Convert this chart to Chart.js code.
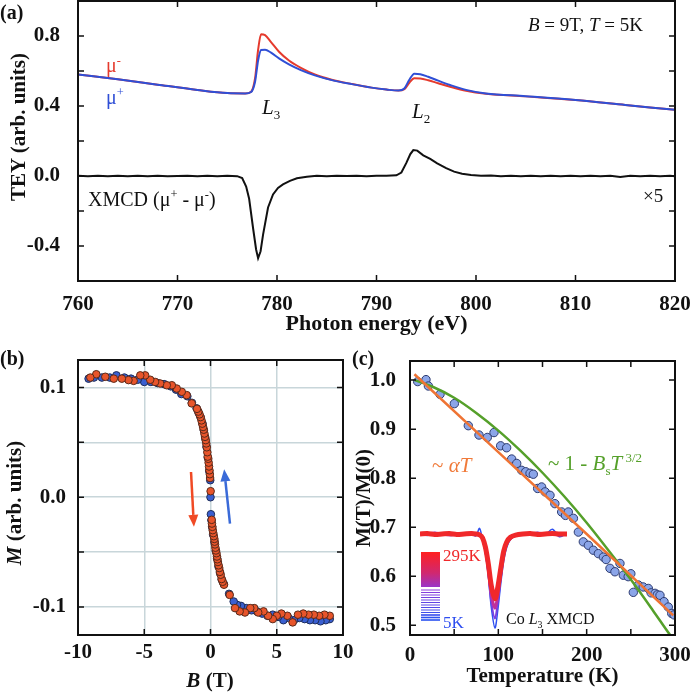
<!DOCTYPE html>
<html>
<head>
<meta charset="utf-8">
<script src="https://cdn.jsdelivr.net/npm/chart.js@4.4.1/dist/chart.umd.min.js"></script>
<style>
    body { margin: 0; background: #fff; }
    #fig { position: relative; width: 692px; height: 694px; overflow: hidden;
           font-family: 'Liberation Serif', 'Times New Roman', serif; color: #111; }
    .box { position: absolute; }
    .t { position: absolute; white-space: nowrap; line-height: 1; }
    .mid { transform: translate(-50%, -50%); }
    .rot { transform: translate(-50%, -50%) rotate(-90deg); }
    .b { font-weight: bold; }
    i { font-style: italic; }
    sup, sub { font-size: 62%; line-height: 0; }
</style>
</head>
<body>
<div id="fig">
    <div class="box" style="left:0;top:0;width:692px;height:340px"><canvas id="chartA" width="692" height="340"></canvas></div>
    <div class="box" style="left:0;top:340px;width:362px;height:354px"><canvas id="chartB" width="362" height="354"></canvas></div>
    <div class="box" style="left:346px;top:340px;width:346px;height:354px"><canvas id="chartC" width="346" height="354"></canvas></div>
    <div class="box" style="left:420px;top:520px;width:147px;height:112px"><canvas id="chartInset" width="147" height="112"></canvas></div>

    <!-- panel (a) labels -->
    <div class="t b" style="left:0;top:2px;font-size:20px">(a)</div>
    <div class="t b rot" style="left:18px;top:127px;font-size:21px">TEY (arb. units)</div>
    <div class="t" style="left:106px;top:55px;font-size:20px;color:#e53a2d">μ<sup>-</sup></div>
    <div class="t" style="left:106px;top:87px;font-size:20px;color:#2f4fd6">μ<sup>+</sup></div>
    <div class="t" style="left:262px;top:97px;font-size:21px"><i>L</i><sub>3</sub></div>
    <div class="t" style="left:412px;top:101px;font-size:21px"><i>L</i><sub>2</sub></div>
    <div class="t" style="left:88px;top:189px;font-size:20px">XMCD (μ<sup>+</sup> - μ<sup>-</sup>)</div>
    <div class="t" style="left:643px;top:186px;font-size:19px">×5</div>
    <div class="t" style="left:528px;top:15px;font-size:19px"><i>B</i> = 9T, <i>T</i> = 5K</div>

    <!-- panel (b) labels -->
    <div class="t b" style="left:0;top:348px;font-size:20px">(b)</div>
    <div class="t b rot" style="left:14px;top:503px;font-size:21px"><i>M</i> (arb. units)</div>
    <div class="t b mid" style="left:210px;top:680px;font-size:21px"><i>B</i> (T)</div>

    <!-- panel (c) labels -->
    <div class="t b" style="left:352px;top:348px;font-size:20px">(c)</div>
    <div class="t" style="left:432px;top:455px;font-size:21px;color:#f07a3a">~ <i>αT</i></div>
    <div class="t" style="left:548px;top:453px;font-size:21px;color:#55a02a">~ 1 - <i>B</i><sub>s</sub><i>T</i><sup> 3/2</sup></div>
    <div class="t" style="left:443px;top:547px;font-size:17px;color:#f0282a">295K</div>
    <div class="t" style="left:443px;top:614px;font-size:17px;color:#2f4ff0">5K</div>
    <div class="t" style="left:506px;top:611px;font-size:16px">Co <i>L</i><sub>3</sub> XMCD</div>
</div>

<script>
// ---- (a) XAS at the Co L edges, B = 9T, T = 5K ----
var energyMu = [760, 764, 768, 772, 775, 776.8, 777.4, 777.8, 778.1, 778.4, 778.8, 779.4, 780.2, 781.2, 782.4,
                783.8, 785.5, 787.5, 789.5, 791, 792.2, 792.8, 793.3, 793.8, 794.4, 795.2, 796.2, 797.4, 799, 801,
                805, 810, 815, 820];
var muPlus  = [0.580, 0.553, 0.522, 0.492, 0.474, 0.472, 0.48, 0.54, 0.66, 0.72, 0.722, 0.705, 0.672, 0.638, 0.605,
               0.575, 0.548, 0.525, 0.505, 0.494, 0.488, 0.5, 0.55, 0.585, 0.582, 0.567, 0.545, 0.52, 0.492, 0.472,
               0.456, 0.434, 0.406, 0.378];
var muMinus = [0.580, 0.553, 0.522, 0.492, 0.474, 0.472, 0.482, 0.56, 0.72, 0.81, 0.805, 0.765, 0.71, 0.66, 0.618,
               0.58, 0.55, 0.526, 0.505, 0.494, 0.488, 0.496, 0.533, 0.558, 0.557, 0.547, 0.53, 0.51, 0.487, 0.47,
               0.455, 0.434, 0.406, 0.378];

var energyXmcd = [760, 761, 762, 763, 764, 765, 766, 767, 768, 769, 770, 771, 772, 773, 774, 775, 776,
                  776.5, 776.9, 777.2, 777.6, 777.9, 778.1, 778.35, 778.6, 779.1, 779.6, 780.1, 780.6, 781.3, 782, 783,
                  784, 785, 786, 787, 788, 789, 790, 791, 792,
                  792.5, 793, 793.4, 793.7, 794.1, 794.7, 795.4, 796.1, 797, 797.8, 798.6, 799.5,
                  800.5, 801.5, 802.5, 803.5, 804.5, 805.5, 806.5, 807.5, 808.5, 809.5, 810.5, 811.5, 812.5, 813.5,
                  814.5, 815.5, 816.5, 817.5, 818.5, 819.5, 820];
var xmcdSignal = [0.001, -0.002, 0.002, -0.001, 0.002, -0.002, 0.001, -0.001, 0.002, -0.002, 0.0, 0.002, -0.002, 0.001, -0.001, 0.002, -0.001,
                  -0.012, -0.06, -0.13, -0.3, -0.42, -0.47, -0.43, -0.335, -0.18, -0.105, -0.068, -0.048, -0.028, -0.013, -0.004,
                  0.001, -0.001, 0.002, 0.0, 0.002, -0.001, 0.002, 0.001, 0.004,
                  0.02, 0.075, 0.125, 0.148, 0.145, 0.118, 0.098, 0.072, 0.045, 0.025, 0.013, 0.006,
                  0.001, 0.003, -0.001, 0.002, -0.002, 0.001, -0.001, 0.002, -0.002, 0.001, -0.001, 0.002, -0.002, 0.001,
                  -0.006, 0.001, -0.002, 0.002, -0.001, 0.001, -0.001];

// ---- (b) hysteresis loop ----
var loopDownB = [9.0, 8.6, 8.2, 7.8, 7.4, 7.0, 6.6, 6.2, 5.8, 5.35, 5.0, 4.7, 4.35, 4.0, 3.6, 3.3, 3.0, 2.6, 2.2, 1.85, 1.45,
                 1.02, 0.92, 0.84, 0.77, 0.71, 0.66, 0.61, 0.56, 0.52, 0.49, 0.45, 0.41, 0.37, 0.34, 0.31, 0.29, 0.25, 0.21,
                 0.17, 0.14, 0.11, 0.09, 0.01,
                 -0.03, -0.05, -0.08, -0.11, -0.14, -0.17, -0.21, -0.24, -0.28, -0.32, -0.36, -0.41, -0.46, -0.51, -0.56,
                 -0.62, -0.68, -0.75, -0.83, -0.92, -1.02, -1.42,
                 -1.8, -2.17, -2.55, -2.92, -3.3, -3.8, -4.18, -4.55, -4.93, -5.3, -5.8, -6.19, -6.69, -7.3, -7.94, -8.62, -9.07];
var loopDownM = [-0.108, -0.107, -0.108, -0.107, -0.107, -0.106, -0.107, -0.114, -0.108, -0.106, -0.108, -0.111, -0.108, -0.104, -0.105, -0.101, -0.101, -0.105, -0.104, -0.101, -0.089,
                 -0.0797, -0.077, -0.0745, -0.0706, -0.068, -0.0645, -0.062, -0.059, -0.0565, -0.054, -0.051, -0.0485, -0.046, -0.043, -0.0405, -0.038, -0.0355, -0.0327,
                 -0.03, -0.027, -0.024, -0.0206, 0.0055,
                 0.0175, 0.021, 0.0245, 0.028, 0.0315, 0.035, 0.037, 0.041, 0.0455, 0.049, 0.052, 0.055, 0.058, 0.0615, 0.064,
                 0.067, 0.07, 0.073, 0.0755, 0.078, 0.0805, 0.0855,
                 0.093, 0.096, 0.099, 0.102, 0.102, 0.1036, 0.105, 0.107, 0.111, 0.111, 0.106, 0.1067, 0.108, 0.108, 0.1097, 0.112, 0.109];
var loopUpB = [9.0, 8.7, 8.3, 7.9, 7.5, 7.1, 6.7, 6.3, 5.9, 5.5, 5.1, 4.7, 4.3, 3.9, 3.5, 3.1, 2.7, 2.3, 2.0, 1.75, 1.4,
               1.0, 0.85, 0.72, 0.6, 0.5, 0.4, 0.3, 0.2, 0.12, 0.07, 0.03,
               0.0, -0.02,
               -0.1, -0.2, -0.3, -0.4, -0.5, -0.6, -0.75, -0.9, -1.05, -1.4, -1.75,
               -2.2, -2.6, -3.0, -3.5, -4.0, -4.5, -5.0, -5.5, -6.0, -6.5, -7.1, -7.6, -8.2, -8.8, -9.2];
var loopUpM = [-0.111, -0.112, -0.113, -0.112, -0.112, -0.111, -0.110, -0.112, -0.110, -0.112, -0.109, -0.107, -0.108, -0.106, -0.104, -0.103, -0.101, -0.099, -0.098, -0.095, -0.088,
               -0.079, -0.075, -0.069, -0.063, -0.056, -0.049, -0.041, -0.034, -0.027, -0.021, -0.0155,
               0.0, 0.0155,
               0.024, 0.036, 0.046, 0.054, 0.061, 0.067, 0.073, 0.077, 0.081, 0.086, 0.092,
               0.094, 0.098, 0.101, 0.103, 0.104, 0.105, 0.105, 0.107, 0.108, 0.109, 0.111, 0.109, 0.109, 0.109, 0.108];
// sweep arrows: [B, M] tail then head
var arrowDown = [[-1.47, 0.023], [-1.25, -0.027]];
var arrowUp   = [[1.47, -0.024], [1.03, 0.0255]];

// ---- (c) temperature dependence ----
var tempK = [8.7, 18.1, 20.8, 34, 50.2, 66, 78.1, 87.5, 95.1, 102.6, 109.4, 115.1, 120.8, 126.4, 131, 135.9, 139.6,
             144.5, 149, 153, 158.5, 164, 171.7, 176, 179.2, 185, 190.6, 196.2, 201.9, 207.5, 213.2, 218.9, 222,
             226.4, 232, 237.7, 241.5, 247, 250, 252.8, 258.5, 264, 269.8, 273, 277.4, 280, 283, 287.6, 292.4, 296.3, 299];
var mRatio = [0.997, 1.001, 0.988, 0.971, 0.952, 0.907, 0.888, 0.883, 0.893, 0.866, 0.862, 0.839, 0.83, 0.816, 0.813, 0.81, 0.808,
              0.779, 0.782, 0.772, 0.765, 0.748, 0.731, 0.724, 0.731, 0.718, 0.69, 0.67, 0.663, 0.653, 0.646, 0.639, 0.634,
              0.616, 0.609, 0.626, 0.602, 0.599, 0.605, 0.567, 0.582, 0.578, 0.575, 0.566, 0.565, 0.562, 0.561, 0.548, 0.537, 0.524, 0.521];
var linFitT = [5, 100, 200, 298];
var linFitM = [1.012, 0.853, 0.686, 0.52];
var blochFitT = [5, 25, 50, 75, 100, 125, 150, 175, 200, 225, 250, 275, 292, 296];
var blochFitM = [1.0, 0.987, 0.964, 0.933, 0.897, 0.856, 0.811, 0.762, 0.709, 0.652, 0.593, 0.53, 0.486, 0.476];

// inset: Co L3 XMCD vs temperature
var insetEnergy = [770, 771, 772, 773, 774, 775, 776, 777, 777.6, 778.1, 778.5, 778.9, 779.3, 779.7, 780.2, 780.6,
                   781, 781.4, 781.8, 782.3, 783, 784, 785, 786, 787, 788, 789, 790];
var inset5K   = [0.01, -0.015, 0.015, -0.01, 0.015, -0.01, 0.01, 0.0, -0.02, 0.06, -0.06, -0.2, -0.45, -0.78, -1.0, -0.8,
                 -0.52, -0.28, -0.14, -0.06, -0.02, 0.01, -0.01, 0.015, -0.01, 0.05, -0.03, 0.01];
var inset100K = [0.0, 0.01, -0.01, 0.01, 0.0, -0.01, 0.01, -0.01, 0.0, 0.0, -0.05, -0.18, -0.42, -0.72, -0.9, -0.72,
                 -0.46, -0.24, -0.12, -0.05, -0.02, 0.0, 0.01, -0.01, 0.0, 0.01, 0.0, 0.0];
var inset200K = [0.0, 0.0, 0.01, 0.0, -0.01, 0.0, 0.0, 0.01, 0.0, -0.01, -0.045, -0.16, -0.37, -0.64, -0.79, -0.64,
                 -0.41, -0.21, -0.1, -0.045, -0.015, 0.0, 0.0, 0.01, 0.0, 0.0, -0.01, 0.0];
var inset295K = [0.0, 0.005, -0.005, 0.0, 0.005, -0.005, 0.0, 0.005, 0.0, -0.01, -0.04, -0.14, -0.32, -0.55, -0.69, -0.56,
                 -0.36, -0.18, -0.085, -0.035, -0.012, 0.0, 0.005, -0.005, 0.0, 0.005, 0.0, 0.0];

var RED = '#e53a2d', BLUE = '#2f4fd6';
var SERIF = "'Liberation Serif', 'Times New Roman', serif";

function pairs(xs, ys) {
    return xs.map(function(x, i) { return { x: x, y: ys[i] }; });
}

// fix axis box size so chart area lands where the figure has it
function fixWidth(w) {
    return function(scale) {
        scale.width = w;
        scale.paddingTop = scale.paddingBottom = scale.paddingLeft = scale.paddingRight = 0;
    };
}
function fixHeight(h) {
    return function(scale) {
        scale.height = h;
        scale.paddingTop = scale.paddingBottom = scale.paddingLeft = scale.paddingRight = 0;
    };
}

function everyNth(step) {
    return function(v) {
        var k = v / step;
        return Math.abs(k - Math.round(k)) < 1e-6 ? v.toFixed(step < 1 ? 1 : 0) : '';
    };
}

// closed frame with inward ticks on all four sides
var frameTicks = {
    id: 'frameTicks',
    afterDatasetsDraw: function(chart) {
        var ctx = chart.ctx, a = chart.chartArea;
        var xs = chart.scales.x, ys = chart.scales.y;
        var len = 6;
        ctx.save();
        ctx.strokeStyle = '#111';
        ctx.lineWidth = 1.5;
        ctx.beginPath();
        xs.ticks.forEach(function(t) {
            var px = xs.getPixelForValue(t.value);
            if (px <= a.left + 1 || px >= a.right - 1) return;
            ctx.moveTo(px, a.bottom); ctx.lineTo(px, a.bottom - len);
            ctx.moveTo(px, a.top); ctx.lineTo(px, a.top + len);
        });
        ys.ticks.forEach(function(t) {
            var py = ys.getPixelForValue(t.value);
            if (py <= a.top + 1 || py >= a.bottom - 1) return;
            ctx.moveTo(a.left, py); ctx.lineTo(a.left + len, py);
            ctx.moveTo(a.right, py); ctx.lineTo(a.right - len, py);
        });
        ctx.stroke();
        ctx.lineWidth = 2;
        ctx.strokeRect(a.left, a.top, a.right - a.left, a.bottom - a.top);
        ctx.restore();
    }
};

var sweepArrows = {
    id: 'sweepArrows',
    afterDatasetsDraw: function(chart) {
        var ctx = chart.ctx, xs = chart.scales.x, ys = chart.scales.y;
        [[arrowDown, '#f04a25'], [arrowUp, '#3a6ad8']].forEach(function(item) {
            var p0 = item[0][0], p1 = item[0][1];
            var x0 = xs.getPixelForValue(p0[0]), y0 = ys.getPixelForValue(p0[1]);
            var x1 = xs.getPixelForValue(p1[0]), y1 = ys.getPixelForValue(p1[1]);
            var ang = Math.atan2(y1 - y0, x1 - x0), hl = 12, hw = 5;
            var bx = x1 - hl * Math.cos(ang), by = y1 - hl * Math.sin(ang);
            ctx.save();
            ctx.strokeStyle = ctx.fillStyle = item[1];
            ctx.lineWidth = 2.5;
            ctx.beginPath(); ctx.moveTo(x0, y0); ctx.lineTo(bx, by); ctx.stroke();
            ctx.beginPath();
            ctx.moveTo(x1, y1);
            ctx.lineTo(bx + hw * Math.sin(ang), by - hw * Math.cos(ang));
            ctx.lineTo(bx - hw * Math.sin(ang), by + hw * Math.cos(ang));
            ctx.closePath(); ctx.fill();
            ctx.restore();
        });
    }
};

// temperature key of the inset (red 295K on top, blue 5K at the bottom)
var colourKey = {
    id: 'colourKey',
    afterDatasetsDraw: function(chart) {
        var ctx = chart.ctx;
        var x = 1, w = 19, top = 32, block = 35, n = 13;
        ctx.save();
        var g = ctx.createLinearGradient(0, top, 0, top + block);
        g.addColorStop(0, '#ff2020');
        g.addColorStop(0.6, '#d02870');
        g.addColorStop(1, '#9a34c8');
        ctx.fillStyle = g;
        ctx.fillRect(x, top, w, block);
        for (var i = 0; i < n; i++) {
            var f = i / (n - 1);
            var r = Math.round(140 - 100 * f), gg = Math.round(60 + 20 * f), b = Math.round(220 + 20 * f);
            ctx.strokeStyle = 'rgb(' + r + ',' + gg + ',' + b + ')';
            ctx.lineWidth = f > 0.75 ? 1.6 : 1;
            var y = top + block + 3 + i * 2.5;
            ctx.beginPath(); ctx.moveTo(x, y); ctx.lineTo(x + w, y); ctx.stroke();
        }
        ctx.restore();
    }
};

function tickFont(size) { return { family: SERIF, size: size, weight: 'bold' }; }

document.addEventListener('DOMContentLoaded', function() {
    Chart.defaults.color = '#111';
    initSpectraChart();
    initLoopChart();
    initTempChart();
    initInsetChart();
});

function initSpectraChart() {
    new Chart(document.getElementById('chartA'), {
        type: 'line',
        data: {
            datasets: [{
                label: 'μ+', data: pairs(energyMu, muPlus), borderColor: BLUE, borderWidth: 2,
                pointRadius: 0, cubicInterpolationMode: 'monotone'
            }, {
                label: 'μ-', data: pairs(energyMu, muMinus), borderColor: RED, borderWidth: 2,
                pointRadius: 0, cubicInterpolationMode: 'monotone'
            }, {
                label: 'XMCD (μ+ - μ-) ×5', data: pairs(energyXmcd, xmcdSignal), borderColor: '#111',
                borderWidth: 2, pointRadius: 0, tension: 0
            }]
        },
        options: {
            responsive: false,
            animation: false,
            layout: { padding: { left: 0, right: 17, top: 1, bottom: 0 } },
            plugins: { legend: { display: false }, tooltip: { enabled: false } },
            scales: {
                x: {
                    type: 'linear', min: 760, max: 820,
                    ticks: { stepSize: 10, font: tickFont(21), padding: 3, maxRotation: 0, autoSkip: false },
                    grid: { display: false }, border: { display: false },
                    title: { display: true, text: 'Photon energy (eV)', font: tickFont(22), padding: { bottom: 2 } },
                    afterFit: fixHeight(59)
                },
                y: {
                    min: -0.6, max: 1.0,
                    ticks: { stepSize: 0.2, font: tickFont(21), padding: 10, callback: everyNth(0.4) },
                    grid: { display: false }, border: { display: false },
                    afterFit: fixWidth(78)
                }
            }
        },
        plugins: [frameTicks]
    });
}

function initLoopChart() {
    new Chart(document.getElementById('chartB'), {
        type: 'scatter',
        data: {
            datasets: [{
                label: 'down sweep', data: pairs(loopDownB, loopDownM),
                backgroundColor: '#e8552b', borderColor: '#5a2a1a', borderWidth: 1, pointRadius: 3.8
            }, {
                label: 'up sweep', data: pairs(loopUpB, loopUpM),
                backgroundColor: '#3a5fd0', borderColor: '#1e2d5a', borderWidth: 1, pointRadius: 3.8
            }]
        },
        options: {
            responsive: false,
            animation: false,
            layout: { padding: { left: 0, right: 19, top: 20, bottom: 0 } },
            plugins: { legend: { display: false }, tooltip: { enabled: false } },
            scales: {
                x: {
                    type: 'linear', min: -10, max: 10,
                    ticks: { stepSize: 5, font: tickFont(21), padding: 5, maxRotation: 0, autoSkip: false },
                    grid: { color: '#c8d6da', lineWidth: 1.5, drawTicks: false },
                    border: { display: false },
                    afterFit: fixHeight(59)
                },
                y: {
                    min: -0.1255, max: 0.125,
                    ticks: { stepSize: 0.05, includeBounds: false, font: tickFont(21), padding: 12, callback: everyNth(0.1) },
                    grid: { color: '#c8d6da', lineWidth: 1.5, drawTicks: false },
                    border: { display: false },
                    afterFit: fixWidth(78)
                }
            }
        },
        plugins: [frameTicks, sweepArrows]
    });
}

function initTempChart() {
    new Chart(document.getElementById('chartC'), {
        type: 'scatter',
        data: {
            datasets: [{
                type: 'line', label: '~ αT', data: pairs(linFitT, linFitM),
                borderColor: '#ef7434', borderWidth: 2.5, pointRadius: 0
            }, {
                type: 'line', label: '~ 1 - BsT^3/2', data: pairs(blochFitT, blochFitM),
                borderColor: '#55a02a', borderWidth: 2.5, pointRadius: 0, cubicInterpolationMode: 'monotone'
            }, {
                label: 'M(T)/M(0)', data: pairs(tempK, mRatio),
                backgroundColor: '#8ba5e8', borderColor: '#2d3b70', borderWidth: 1, pointRadius: 4.2
            }]
        },
        options: {
            responsive: false,
            animation: false,
            layout: { padding: { left: 0, right: 17, top: 21, bottom: 0 } },
            plugins: { legend: { display: false }, tooltip: { enabled: false } },
            scales: {
                x: {
                    type: 'linear', min: 0, max: 300,
                    ticks: { stepSize: 50, font: tickFont(21), padding: 0, maxRotation: 0, autoSkip: false, callback: everyNth(100) },
                    grid: { display: false }, border: { display: false },
                    title: { display: true, text: 'Temperature (K)', font: tickFont(21), padding: { bottom: 5 } },
                    afterFit: fixHeight(59)
                },
                y: {
                    min: 0.48, max: 1.039,
                    ticks: { stepSize: 0.1, includeBounds: false, font: tickFont(21), padding: 6, callback: everyNth(0.1) },
                    grid: { display: false }, border: { display: false },
                    title: { display: true, text: 'M(T)/M(0)', font: tickFont(21), padding: { top: 6 } },
                    afterFit: fixWidth(64)
                }
            }
        },
        plugins: [frameTicks]
    });
}

function initInsetChart() {
    function curve(label, ys, colour, width) {
        return { label: label, data: pairs(insetEnergy, ys), borderColor: colour, borderWidth: width,
                 pointRadius: 0, tension: 0.3 };
    }
    new Chart(document.getElementById('chartInset'), {
        type: 'line',
        data: {
            datasets: [
                curve('295K', inset295K, '#f0282a', 5),
                curve('200K', inset200K, '#c0309a', 3),
                curve('100K', inset100K, '#7a3fe0', 2),
                curve('5K', inset5K, '#2f4ff0', 1.5)
            ]
        },
        options: {
            responsive: false,
            animation: false,
            clip: false,
            layout: { padding: 0 },
            plugins: { legend: { display: false }, tooltip: { enabled: false } },
            scales: {
                x: { type: 'linear', min: 770, max: 790, display: false },
                y: { min: -1.043, max: 0.149, display: false }
            }
        },
        plugins: [colourKey]
    });
}
</script>
</body>
</html>
